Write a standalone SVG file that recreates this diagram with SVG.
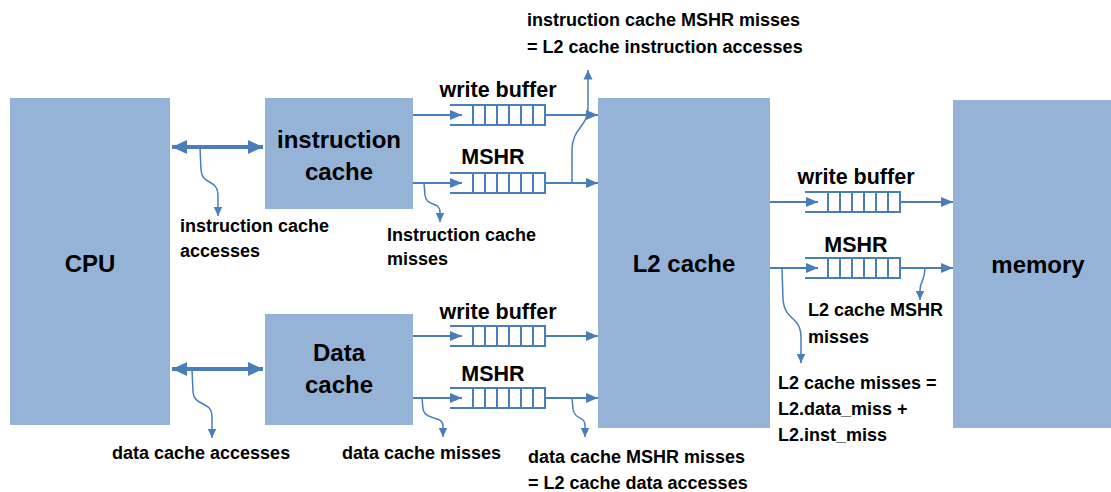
<svg xmlns="http://www.w3.org/2000/svg" xmlns:xlink="http://www.w3.org/1999/xlink" width="1111" height="492" viewBox="0 0 1111 492">
  <style>
    .box { fill: #95B3D7; }
    .big { font-family: "Liberation Sans", Arial, sans-serif; font-weight: bold; font-size: 24px; fill: #000; text-anchor: middle; }
    .qlabel { font-family: "Liberation Sans", Arial, sans-serif; font-weight: bold; font-size: 21.5px; fill: #000; text-anchor: middle; }
    .note { font-family: "Liberation Sans", Arial, sans-serif; font-weight: bold; font-size: 18px; fill: #000; }
    .wire { fill: none; stroke: #4A7EBB; stroke-width: 2; }
    .tap { fill: none; stroke: #4A7EBB; stroke-width: 1.5; }
    .bus { fill: none; stroke: #4A7EBB; stroke-width: 4; }
    .queue { fill: none; stroke: #4A7EBB; stroke-width: 2; }
  </style>
  <defs>
    <marker id="ah" markerUnits="userSpaceOnUse" markerWidth="13" markerHeight="11" refX="12" refY="5.5" orient="auto">
      <path d="M0,0.5 L12,5.5 L0,10.5 z" fill="#4A7EBB"/>
    </marker>
    <marker id="ahs" markerUnits="userSpaceOnUse" markerWidth="10" markerHeight="10" refX="9.5" refY="5" orient="auto">
      <path d="M0,0.5 L9.5,5 L0,9.5 z" fill="#4A7EBB"/>
    </marker>
    <marker id="ahb" markerUnits="userSpaceOnUse" markerWidth="16" markerHeight="14" refX="15" refY="7" orient="auto-start-reverse">
      <path d="M0,0 L15,7 L0,14 z" fill="#4A7EBB"/>
    </marker>
    <!-- queue: open input end, six slots -->
    <g id="queue" class="queue">
      <path d="M0,0 H95 V20 H0"/>
      <path d="M23,0 V20 M35,0 V20 M47,0 V20 M59,0 V20 M71,0 V20 M83,0 V20"/>
    </g>
  </defs>

  <rect width="1111" height="492" fill="#fff"/>

  <!-- blocks -->
  <g id="cpu">
    <rect class="box" x="10" y="98" width="160" height="327"/>
    <text class="big" x="90" y="272">CPU</text>
  </g>
  <g id="icache">
    <rect class="box" x="265" y="98" width="148" height="111"/>
    <text class="big" x="339" y="148">instruction</text>
    <text class="big" x="339" y="180">cache</text>
  </g>
  <g id="dcache">
    <rect class="box" x="265" y="314" width="148" height="111"/>
    <text class="big" x="339" y="361">Data</text>
    <text class="big" x="339" y="393">cache</text>
  </g>
  <g id="l2">
    <rect class="box" x="598" y="98" width="172" height="330"/>
    <text class="big" x="684" y="272">L2 cache</text>
  </g>
  <g id="memory">
    <rect class="box" x="953" y="100" width="158" height="328"/>
    <text class="big" x="1038" y="273">memory</text>
  </g>

  <!-- buffers -->
  <g id="i-wb">
    <use xlink:href="#queue" x="450" y="105"/>
    <text class="qlabel" x="498" y="97">write buffer</text>
  </g>
  <g id="i-mshr">
    <use xlink:href="#queue" x="450" y="173"/>
    <text class="qlabel" x="493" y="164">MSHR</text>
  </g>
  <g id="d-wb">
    <use xlink:href="#queue" x="450" y="326"/>
    <text class="qlabel" x="498" y="319">write buffer</text>
  </g>
  <g id="d-mshr">
    <use xlink:href="#queue" x="450" y="388"/>
    <text class="qlabel" x="493" y="381">MSHR</text>
  </g>
  <g id="l2-wb">
    <use xlink:href="#queue" x="805" y="192"/>
    <text class="qlabel" x="856" y="184">write buffer</text>
  </g>
  <g id="l2-mshr">
    <use xlink:href="#queue" x="805" y="258"/>
    <text class="qlabel" x="856" y="252">MSHR</text>
  </g>

  <!-- connectors -->
  <g id="connectors">
    <path class="bus" d="M172,147 H263" marker-start="url(#ahb)" marker-end="url(#ahb)"/>
    <path class="bus" d="M172,369 H263" marker-start="url(#ahb)" marker-end="url(#ahb)"/>

    <path class="wire" d="M413,115 H462" marker-end="url(#ah)"/>
    <path class="wire" d="M545,115 H598" marker-end="url(#ah)"/>
    <path class="wire" d="M413,183 H462" marker-end="url(#ah)"/>
    <path class="wire" d="M545,183 H598" marker-end="url(#ah)"/>
    <path class="wire" d="M413,336 H462" marker-end="url(#ah)"/>
    <path class="wire" d="M545,336 H598" marker-end="url(#ah)"/>
    <path class="wire" d="M413,398 H462" marker-end="url(#ah)"/>
    <path class="wire" d="M545,398 H598" marker-end="url(#ah)"/>
    <path class="wire" d="M770,202 H818" marker-end="url(#ah)"/>
    <path class="wire" d="M900,202 H953" marker-end="url(#ah)"/>
    <path class="wire" d="M770,268 H818" marker-end="url(#ah)"/>
    <path class="wire" d="M900,268 H953" marker-end="url(#ah)"/>

    <!-- counters tapped off the links -->
    <path class="tap" d="M200,147 L201,170 C202,186 218,178 218,196 L218,216" marker-end="url(#ahs)"/>
    <path class="tap" d="M192,369 L193,392 C194,407 212,400 212,417 L212,438" marker-end="url(#ahs)"/>
    <path class="tap" d="M424,183 L425,195 C426,207 440,201 440,212 L440,222" marker-end="url(#ahs)"/>
    <path class="tap" d="M422,398 L423,409 C425,421 443,415 443,426 L443,437" marker-end="url(#ahs)"/>
    <path class="tap" d="M572,398 L573,409 C575,421 585,415 585,426 L585,437" marker-end="url(#ahs)"/>
    <path class="tap" d="M572,183 L572,150 C572,128 588,127 588,108 L588,70" marker-end="url(#ahs)"/>
    <path class="tap" d="M925,268 C925,280 920,282 920,290 L920,300" marker-end="url(#ahs)"/>
    <path class="tap" d="M782,268 L783,300 C785,322 801,315 801,338 L801,363" marker-end="url(#ahs)"/>
  </g>

  <!-- counter labels -->
  <g id="labels">
    <text class="note" x="527" y="26">instruction cache MSHR misses</text>
    <text class="note" x="527" y="53">= L2 cache instruction accesses</text>
    <text class="note" x="180" y="232">instruction cache</text>
    <text class="note" x="180" y="257">accesses</text>
    <text class="note" x="387" y="241">Instruction cache</text>
    <text class="note" x="387" y="265">misses</text>
    <text class="note" x="808" y="316">L2 cache MSHR</text>
    <text class="note" x="808" y="343">misses</text>
    <text class="note" x="778" y="389">L2 cache misses =</text>
    <text class="note" x="778" y="415">L2.data_miss +</text>
    <text class="note" x="778" y="441">L2.inst_miss</text>
    <text class="note" x="112" y="459">data cache accesses</text>
    <text class="note" x="342" y="459">data cache misses</text>
    <text class="note" x="528" y="463">data cache MSHR misses</text>
    <text class="note" x="528" y="489">= L2 cache data accesses</text>
  </g>
</svg>
